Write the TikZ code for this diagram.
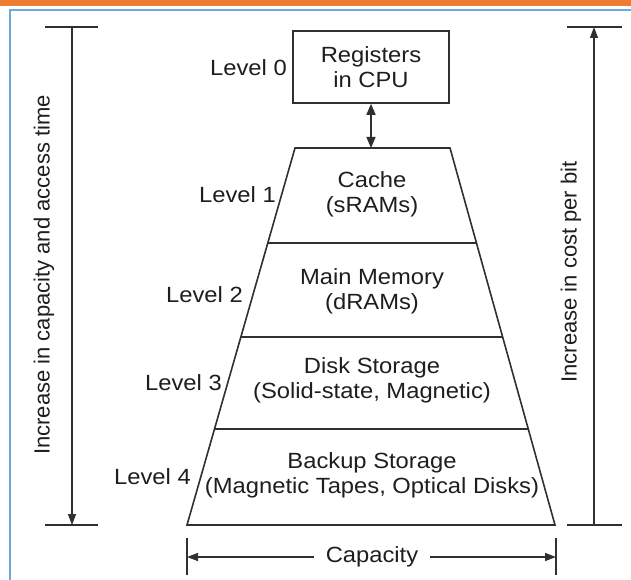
\documentclass[tikz,border=0pt]{standalone}
\usepackage{fontspec}
\setmainfont{Liberation Sans}
\usetikzlibrary{arrows.meta}
\definecolor{ink}{HTML}{303030}
\definecolor{txt}{HTML}{1E1E1E}
\definecolor{frameblue}{HTML}{6FA8DC}
\definecolor{topbar}{HTML}{ED7D31}
\begin{document}
\begin{tikzpicture}[x=1pt,y=-1pt,
  lbl/.style={font=\fontsize{22}{25}\selectfont, text=txt, inner sep=0pt, align=center},
  hl/.style={lbl, xscale=1.08},
  ln/.style={draw=ink, line width=1.6pt},
  tk/.style={draw=ink, line width=1.4pt},
  arr/.style={-{Triangle[length=11pt,width=8pt]}},
  darr/.style={{Triangle[length=11pt,width=9pt]}-{Triangle[length=11pt,width=9pt]}}
]
\useasboundingbox (0,0) rectangle (631,580);
\fill[white] (0,0) rectangle (631,580);
% frame
\fill[topbar] (0,0) rectangle (631,6);
\draw[frameblue, line width=1.5pt] (10,580) -- (10,10) -- (631,10);

% registers box
\node[draw=ink, line width=1.6pt, minimum width=156pt, minimum height=72pt, inner sep=0pt] (regs) at (371,67) {};
\node[hl] (regt) at (regs.center) {Registers\\in CPU};

% trapezoid corners
\coordinate (tl) at (295,148);
\coordinate (tr) at (450,148);
\coordinate (bl) at (187,525);
\coordinate (br) at (555,525);
\coordinate (tm) at (371,148);
\draw[ln, line join=miter] (tl) -- (tr) -- (br) -- (bl) -- cycle;
% dividers
\coordinate (d1l) at (267.8,243); \coordinate (d1r) at (476.5,243);
\coordinate (d2l) at (240.9,337); \coordinate (d2r) at (502.6,337);
\coordinate (d3l) at (214.5,429); \coordinate (d3r) at (528.3,429);
\draw[ln] (d1l) -- (d1r);
\draw[ln] (d2l) -- (d2r);
\draw[ln] (d3l) -- (d3r);

% arrow registers <-> cache
\draw[ln, line width=1.5pt, darr] (regs.south) -- (tm);

% level texts
\node[hl] (c1) at (372,194) {Cache\\(sRAMs)};
\node[hl] (c2) at (372,291) {Main Memory\\(dRAMs)};
\node[hl] (c3) at (372,380) {Disk Storage\\(Solid-state, Magnetic)};
\node[hl] (c4) at (372,475) {Backup Storage\\(Magnetic Tapes, Optical Disks)};

\node[hl, anchor=east] (l0) at (287,68) {Level 0};
\node[hl, anchor=east] (l1) at (276,195) {Level 1};
\node[hl, anchor=east] (l2) at (243,295) {Level 2};
\node[hl, anchor=east] (l3) at (222,383) {Level 3};
\node[hl, anchor=east] (l4) at (191,477) {Level 4};

% left vertical
\coordinate (lt) at (72,27); \coordinate (lb) at (72,525);
\draw[tk] (45,27) -- (98,27);
\draw[tk] (45,525) -- (98,525);
\draw[tk, arr] (lt) -- (lb);
\node[lbl, rotate=90] (ll) at (44,275) {Increase in capacity and access time};

% right vertical
\coordinate (rt) at (594,27); \coordinate (rb) at (594,525);
\draw[tk] (567,27) -- (622,27);
\draw[tk] (567,525) -- (622,525);
\draw[tk, arr] (rb) -- (rt);
\node[lbl, rotate=90] (rl) at (571,272) {Increase in cost per bit};

% capacity
\coordinate (cl) at (187,557); \coordinate (cr) at (556,557);
\draw[tk] (187,538) -- (187,575);
\draw[tk] (556,538) -- (556,575);
\node[hl, inner xsep=11pt] (cap) at (372,557) {Capacity};
\draw[tk, arr] (cap.west) -- (cl);
\draw[tk, arr] (cap.east) -- (cr);
\end{tikzpicture}
\end{document}
